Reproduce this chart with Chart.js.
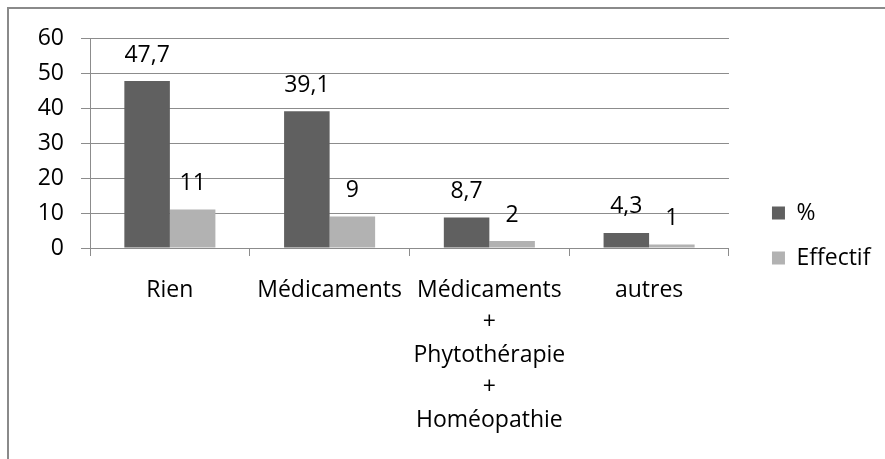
<!DOCTYPE html>
<html lang="fr">
<head>
<meta charset="utf-8">
<title>Traitement</title>
<script src="https://cdn.jsdelivr.net/npm/chart.js@4.4.1/dist/chart.umd.min.js"></script>
<style>
  html, body { margin: 0; padding: 0; background: #fff; }
  #wrap { position: relative; width: 885px; height: 459px; overflow: hidden; }
  #frame { position: absolute; left: 7px; top: 7px; width: 900px; height: 500px;
           border-left: 2px solid #8a8a8a; border-top: 2px solid #8a8a8a; }
  canvas { position: absolute; left: 0; top: 0; }
</style>
</head>
<body>
<div id="wrap">
  <div id="frame"></div>
  <canvas id="chart" width="885" height="459"></canvas>
</div>
<script>
// Data
const categories = ['Rien', 'Médicaments', ['Médicaments', '+', 'Phytothérapie', '+', 'Homéopathie'], 'autres'];
const pourcent = [47.7, 39.1, 8.7, 4.3];
const effectif = [11, 9, 2, 1];
const yMin = 0;
const yMax = 60;
const yStep = 10;

const FONT = '"Open Sans", Lato, sans-serif';
const GRID = '#8c8c8c';

// Values written above the bars, with a decimal comma
const barLabels = {
    id: 'barLabels',
    afterDatasetsDraw(chart) {
        const c = chart.ctx;
        c.save();
        c.font = '23px ' + FONT;
        c.fillStyle = '#000';
        c.textAlign = 'center';
        c.textBaseline = 'middle';
        chart.data.datasets.forEach((ds, i) => {
            chart.getDatasetMeta(i).data.forEach((bar, j) => {
                c.fillText(String(ds.data[j]).replace('.', ','), bar.x, bar.y - 26);
            });
        });
        c.restore();
    }
};

const ctx = document.getElementById('chart').getContext('2d');
const chart = new Chart(ctx, {
    type: 'bar',
    data: {
        labels: categories,
        datasets: [
            { label: '%', data: pourcent, backgroundColor: '#606060' },
            { label: 'Effectif', data: effectif, backgroundColor: '#b2b2b2' }
        ]
    },
    options: {
        responsive: false,
        animation: false,
        categoryPercentage: 0.57,
        barPercentage: 1,
        layout: { padding: { top: 38, right: 4.6, bottom: 26, left: 0 } },
        plugins: {
            tooltip: { enabled: false },
            legend: {
                position: 'right',
                labels: {
                    boxWidth: 13,
                    boxHeight: 13,
                    padding: 22,
                    color: '#000',
                    font: { family: FONT, size: 23 }
                }
            }
        },
        scales: {
            x: {
                grid: { offset: true, drawOnChartArea: false, color: GRID, tickLength: 8 },
                border: { color: GRID },
                ticks: {
                    color: '#000',
                    padding: 18,
                    maxRotation: 0,
                    autoSkip: false,
                    font: { family: FONT, size: 23, lineHeight: 1.413 }
                },
                afterFit(s) { s.height = 185; }
            },
            y: {
                min: yMin,
                max: yMax,
                grid: { color: GRID, tickLength: 9 },
                border: { color: GRID },
                ticks: {
                    stepSize: yStep,
                    color: '#000',
                    padding: 17,
                    font: { family: FONT, size: 23 }
                },
                afterFit(s) { s.width = 90; }
            },
            // empty spacer between the plot and the legend
            gap: {
                type: 'linear',
                position: 'right',
                grid: { display: false },
                border: { display: false },
                ticks: { display: false },
                afterFit(s) { s.width = 21; }
            }
        }
    },
    plugins: [barLabels]
});
</script>
</body>
</html>
